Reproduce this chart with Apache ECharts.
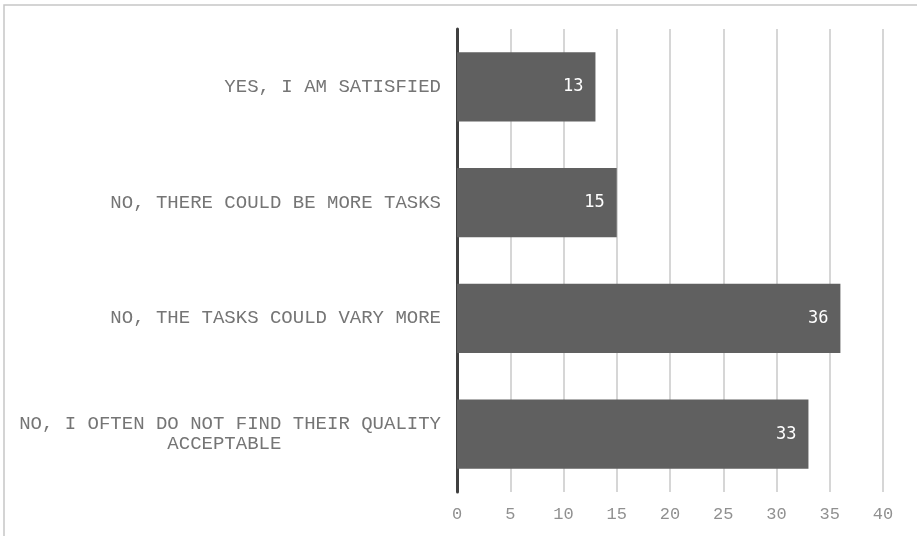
<!DOCTYPE html>
<html>
<head>
<meta charset="utf-8">
<script src="https://cdn.jsdelivr.net/npm/echarts@6/dist/echarts.min.js"></script>
<style>html,body{margin:0;padding:0;background:#fff;}#c{width:917px;height:536px;}</style>
</head>
<body>
<div id="c"></div>
<script>
const categories = [
  "YES, I AM SATISFIED",
  "NO, THERE COULD BE MORE TASKS",
  "NO, THE TASKS COULD VARY MORE",
  "NO, I OFTEN DO NOT FIND THEIR QUALITY\nACCEPTABLE              "
];
const values = [13, 15, 36, 33];
const xTicks = { min: 0, max: 40, interval: 5 };

const monoFont = "'Courier New', 'Nimbus Mono PS', FreeMono, 'Liberation Mono', monospace";

const chart = echarts.init(document.getElementById('c'), null, { renderer: 'canvas' });
chart.setOption({
  animation: false,
  backgroundColor: '#ffffff',
  graphic: [{
    type: 'rect',
    shape: { x: 4, y: 5, width: 1000, height: 1000 },
    style: { fill: 'none', stroke: '#c6c6c6', lineWidth: 1.5 },
    z: -1
  }],
  grid: { left: 457, right: 34, top: 29, bottom: 44, containLabel: false },
  xAxis: {
    type: 'value',
    min: xTicks.min, max: xTicks.max, interval: xTicks.interval,
    axisLine: { show: false },
    axisTick: { show: false },
    splitLine: { show: true, lineStyle: { color: '#c8c8c8', width: 1.5 } },
    axisLabel: { color: '#909090', fontFamily: monoFont, fontSize: 17, margin: 14 }
  },
  yAxis: {
    type: 'category',
    inverse: true,
    data: categories,
    axisLine: { show: true, lineStyle: { color: '#404040', width: 3 } },
    axisTick: { show: false },
    axisLabel: {
      color: '#757575', fontFamily: monoFont, fontSize: 19,
      margin: 16, lineHeight: 20, align: 'right'
    }
  },
  series: [{
    type: 'bar',
    data: values,
    barWidth: '60%',
    itemStyle: { color: '#606060' },
    label: {
      show: true, position: 'insideRight', distance: 12,
      color: '#ffffff', fontFamily: 'DejaVu Sans Mono', fontSize: 17
    }
  }]
});
</script>
</body>
</html>
